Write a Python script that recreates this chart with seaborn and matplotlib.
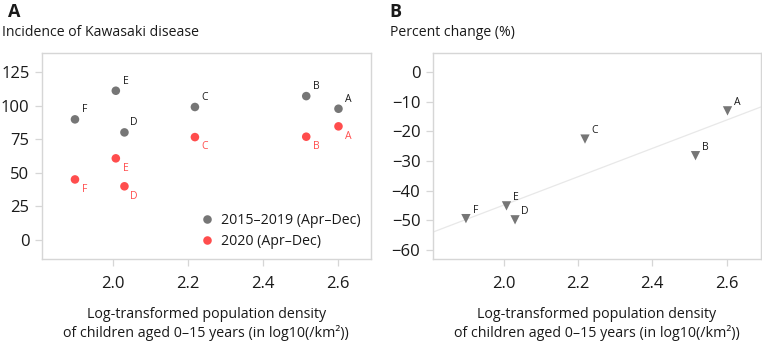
import matplotlib
matplotlib.use("Agg")
import matplotlib.pyplot as plt
import seaborn as sns
import pandas as pd
import numpy as np

# ---- data ----
regions = ["A", "B", "C", "D", "E", "F"]
log_density = [2.602, 2.516, 2.219, 2.031, 2.008, 1.899]
incidence_2015_2019 = [97.7, 107.1, 99.0, 80.1, 111.1, 89.8]
incidence_2020 = [84.6, 76.9, 76.6, 40.0, 60.8, 45.1]
percent_change = [-13.1, -28.2, -22.6, -49.8, -45.1, -49.4]
series_names = ["2015\u20132019 (Apr\u2013Dec)", "2020 (Apr\u2013Dec)"]
yticks_a = [0, 25, 50, 75, 100, 125]
yticks_b = [0, -10, -20, -30, -40, -50, -60]
xticks = [2.0, 2.2, 2.4, 2.6]

GRAY = "#767676"
RED = "#ff4d4d"
SPINE = "#d6d6d6"
TXT = "#1a1a1a"

sns.set_theme(style="white")
plt.rcParams["font.family"] = ["Open Sans", "DejaVu Sans"]

df_a = pd.DataFrame({
    "region": regions * 2,
    "x": log_density * 2,
    "y": incidence_2015_2019 + incidence_2020,
    "period": [series_names[0]] * 6 + [series_names[1]] * 6,
})
df_b = pd.DataFrame({"region": regions, "x": log_density, "y": percent_change})

fig = plt.figure(figsize=(7.62, 3.46), dpi=100)
ax1 = fig.add_axes([0.0551, 0.2514, 0.4314, 0.5963])
ax2 = fig.add_axes([0.5680, 0.2514, 0.4307, 0.5946])

# Panel A
sns.scatterplot(data=df_a, x="x", y="y", hue="period", palette=[GRAY, RED],
                s=38, edgecolor="none", ax=ax1)
for r, x, y in zip(regions, log_density, incidence_2015_2019):
    ax1.annotate(r, (x, y), xytext=(7, 7), textcoords="offset points",
                 ha="center", va="center", fontsize=7.5, color=TXT)
for r, x, y in zip(regions, log_density, incidence_2020):
    ax1.annotate(r, (x, y), xytext=(7, -7), textcoords="offset points",
                 ha="center", va="center", fontsize=7.5, color=RED)
ax1.set_xlim(1.811, 2.688)
ax1.set_ylim(-14.1, 139.4)
ax1.set_yticks(yticks_a)
leg = ax1.legend(loc="lower right", frameon=False, fontsize=10.2,
                 handletextpad=0.0, borderaxespad=0.3, labelspacing=0.45,
                 markerscale=1.0, bbox_to_anchor=(1.0, 0.0))
for t in leg.get_texts():
    t.set_color(TXT)

# Panel B
ax2.set_xlim(1.810, 2.692)
ax2.set_ylim(-63.0, 6.3)
sns.regplot(data=df_b, x="x", y="y", ci=None, truncate=False, ax=ax2, marker="v",
            scatter_kws=dict(s=45, color=GRAY, edgecolors="none", alpha=1, zorder=3),
            line_kws=dict(color="#e8e8e8", lw=0.9, zorder=1))
for r, x, y in zip(regions, log_density, percent_change):
    ax2.annotate(r, (x, y), xytext=(7, 6), textcoords="offset points",
                 ha="center", va="center", fontsize=7.5, color=TXT)
ax2.set_xlim(1.810, 2.692)
ax2.set_ylim(-63.0, 6.3)
ax2.set_yticks(yticks_b)

for ax in (ax1, ax2):
    ax.set_xticks(xticks)
    ax.set_xticklabels([f"{v:.1f}" for v in xticks])
    ax.set_xlabel("Log-transformed population density\nof children aged 0\u201315 years (in log10(/km\u00b2))",
                  fontsize=10.3, color=TXT, labelpad=11, linespacing=1.25)
    ax.set_ylabel("")
    for sp in ax.spines.values():
        sp.set_visible(True)
        sp.set_color(SPINE)
        sp.set_linewidth(1.0)
    ax.tick_params(axis="both", which="both", direction="out", length=5,
                   width=0.9, color=SPINE, labelsize=12, labelcolor=TXT,
                   left=True, bottom=True)
    ax.tick_params(axis="x", pad=7)
    ax.tick_params(axis="y", pad=4)

fig.text(0.010, 0.965, "A", fontsize=13, fontweight="bold", color=TXT, va="center", ha="left")
fig.text(0.511, 0.965, "B", fontsize=13, fontweight="bold", color=TXT, va="center", ha="left")
fig.text(0.002, 0.905, "Incidence of Kawasaki disease", fontsize=10.1, color=TXT, va="center", ha="left")
fig.text(0.512, 0.905, "Percent change (%)", fontsize=10.1, color=TXT, va="center", ha="left")

fig.savefig("out.png", dpi=100)
